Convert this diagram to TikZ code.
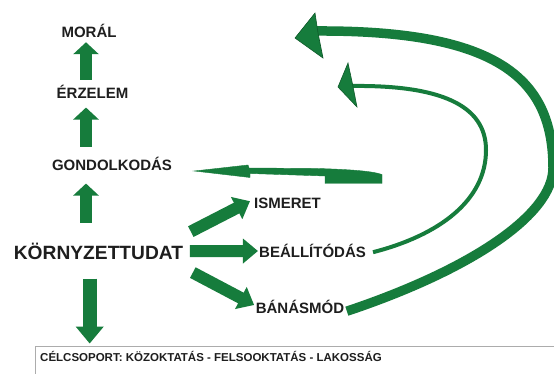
\documentclass[tikz,border=0pt]{standalone}
\usepackage{fontspec}
\setmainfont{Liberation Sans}
\usetikzlibrary{arrows.meta,calc}
\definecolor{grn}{RGB}{22,124,60}
\definecolor{grndark}{RGB}{14,90,42}
\definecolor{txt}{RGB}{30,30,30}
\tikzset{
  lbl/.style={font=\bfseries\fontsize{15}{17}\selectfont, text=txt, inner sep=0pt, text height=10.7pt, text depth=0pt},
  biglbl/.style={font=\bfseries\fontsize{19.2}{21}\selectfont, text=txt, inner sep=0pt, text height=13.7pt, text depth=0pt},
  fatup/.style={draw=grn, line width=12.5pt, -{Triangle[length=12pt,width=25pt]}, grn},
  fatdown/.style={draw=grn, line width=14pt, -{Triangle[length=17pt,width=27pt]}, grn},
  fatdiag/.style={draw=grn, line width=12pt, -{Triangle[length=15pt,width=24pt]}, grn},
  arcbig/.style={draw=grn, line width=9.5pt},
  arcsmall/.style={draw=grn, line width=4pt},
  headfill/.style={fill=grn, draw=grndark, line width=0.6pt, line join=miter},
}
\begin{document}
\begin{tikzpicture}[x=1pt,y=-1pt]
\useasboundingbox (0,0) rectangle (554,374);
\fill[white] (0,0) rectangle (554,374);
\clip (0,0) rectangle (554,374);

% labels
\node[lbl] (mor) at (89,32.3) {MORÁL};
\node[lbl] (erz) at (92.5,93.2) {ÉRZELEM};
\node[lbl] (gon) at (112,164.7) {GONDOLKODÁS};
\node[biglbl] (kor) at (98.5,252.6) {KÖRNYZETTUDAT};
\node[lbl] (ism) at (287.5,203.2) {ISMERET};
\node[lbl] (beal) at (312.5,252.2) {BEÁLLÍTÓDÁS};
\node[lbl] (ban) at (300,308.2) {BÁNÁSMÓD};
\node[font=\bfseries\fontsize{11.5}{13}\selectfont, text=txt, inner sep=0pt, text height=8.3pt, text depth=0pt, anchor=west] (cel) at (40,357.6) {CÉLCSOPORT: KÖZOKTATÁS - FELSOOKTATÁS - LAKOSSÁG};

% box around target group (open to the right and bottom)
\draw[gray!65, line width=1pt] (35,380) -- (35,346) -- (560,346);

% vertical arrows
\coordinate (col) at (86,0);
\coordinate (coldown) at (89.7,0);
\draw[fatup] ($(erz.north -| col)+(0,-8)$) -- ($(mor.south -| col)+(0,4.4)$);
\draw[fatup] ($(gon.north -| col)+(0,-12.3)$) -- ($(erz.south -| col)+(0,8.8)$);
\draw[fatup] ($(kor.north -| col)+(0,-23)$) -- ($(gon.south -| col)+(0,13.3)$);
\draw[fatdown] ($(kor.south -| coldown)+(0,19)$) -- ($(cel.north -| coldown)+(0,-9.7)$);

% diagonal arrows
\draw[fatdiag] ($(kor.east)+(7.5,-21)$) -- ($(ism.west)+(-4,-2)$);
\draw[fatdiag] ($(kor.east)+(6.5,-1.5)$) -- ($(beal.west)+(-1,-1.2)$);
\draw[fatdiag] ($(kor.east)+(9.5,20)$) -- ($(ban.west)+(-1.5,-3.2)$);

% arrow back to GONDOLKODÁS
\coordinate (gtip) at ($(gon.east)+(22,6.3)$);
\filldraw[fill=grn, draw=grn, line width=0.4pt]
  (gtip) -- (248,165) -- (249,168) -- (318,168.5)
  .. controls (350,169.5) and (372,171) .. (382,174.5)
  -- (382,183.5) -- (325,183.5) -- (325,176) -- (250,173.5) -- (250,177.5) -- cycle;

% small curved arrow from BEÁLLÍTÓDÁS
\coordinate (shead) at (338,87);
\draw[arcsmall] ($(beal.east)+(7,0)$) .. controls (440,235) and (486,200) .. (486,150)
  .. controls (486,105) and (440,85) .. (352,86);
\filldraw[headfill] (shead) -- (348,63) -- (352.5,84) -- (357,107) -- cycle;

% big curved arrow from BÁNÁSMÓD
\coordinate (bhead) at (295,38);
\draw[arcbig] ($(ban.east)+(2.5,3)$) .. controls (470,270) and (553,215) .. (553,168)
  .. controls (553,80) and (500,30) .. (316,31);
\filldraw[headfill] (bhead) -- (315,13) -- (318,33) -- (323,58) -- cycle;
\end{tikzpicture}
\end{document}
